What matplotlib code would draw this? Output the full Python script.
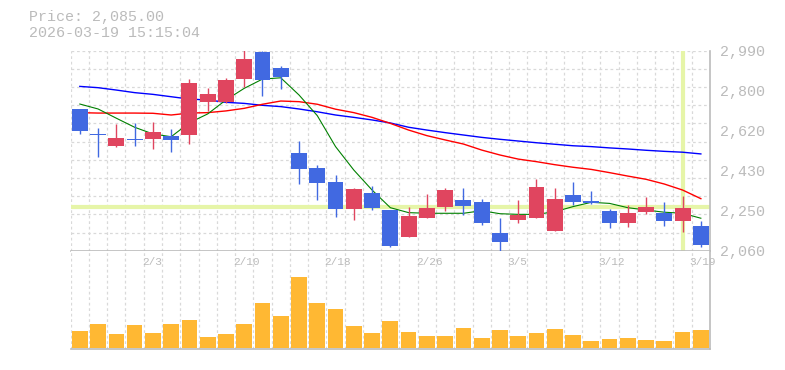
import numpy as np
import matplotlib.pyplot as plt
from matplotlib.transforms import blended_transform_factory

# daily candles, 1/28 .. 3/19
dates = ['1/28', '1/29', '1/30', '2/2', '2/3', '2/4', '2/5', '2/6', '2/9', '2/10',
         '2/12', '2/13', '2/16', '2/17', '2/18', '2/19', '2/20', '2/24', '2/25', '2/26',
         '2/27', '3/2', '3/3', '3/4', '3/5', '3/6', '3/9', '3/10', '3/11', '3/12',
         '3/13', '3/16', '3/17', '3/18', '3/19']
opens = [2719, 2603, 2547, 2577, 2581, 2593, 2598, 2753, 2751, 2860,
         2984, 2910, 2514, 2445, 2379, 2255, 2328, 2249, 2125, 2213,
         2265, 2296, 2286, 2144, 2203, 2213, 2153, 2319, 2291, 2245,
         2190, 2240, 2235, 2198, 2175]
highs = [2719, 2631, 2649, 2654, 2658, 2626, 2858, 2817, 2863, 2993,
         2990, 2920, 2570, 2457, 2412, 2353, 2361, 2249, 2265, 2324,
         2353, 2353, 2300, 2212, 2296, 2395, 2353, 2379, 2338, 2254,
         2274, 2311, 2286, 2314, 2200]
lows = [2603, 2497, 2544, 2547, 2534, 2520, 2558, 2710, 2745, 2823,
        2781, 2813, 2372, 2296, 2218, 2204, 2249, 2079, 2125, 2213,
        2246, 2227, 2181, 2060, 2190, 2213, 2153, 2274, 2279, 2167,
        2172, 2231, 2176, 2147, 2079]
closes = [2618, 2600, 2584, 2574, 2612, 2575, 2840, 2789, 2854, 2951,
          2855, 2869, 2441, 2376, 2255, 2347, 2260, 2083, 2221, 2259,
          2342, 2269, 2190, 2102, 2227, 2356, 2300, 2288, 2282, 2190,
          2235, 2263, 2198, 2259, 2085]
ma_short = [2742, 2719, 2676, 2634, 2603, 2590, 2655, 2696, 2761, 2815,
            2858, 2864, 2784, 2688, 2544, 2435, 2342, 2260, 2237, 2234,
            2234, 2234, 2246, 2232, 2229, 2229, 2241, 2265, 2285, 2280,
            2260, 2249, 2239, 2234, 2211]
ma_mid = [2702, 2700, 2700, 2700, 2699, 2691, 2700, 2702, 2710, 2722,
          2741, 2756, 2753, 2741, 2718, 2702, 2680, 2652, 2621, 2595,
          2575, 2556, 2528, 2505, 2486, 2474, 2460, 2448, 2438, 2423,
          2407, 2392, 2370, 2342, 2302]
ma_long = [2824, 2818, 2807, 2795, 2787, 2776, 2765, 2761, 2750, 2745,
           2736, 2730, 2719, 2706, 2691, 2680, 2668, 2654, 2634, 2621,
           2609, 2598, 2587, 2578, 2570, 2562, 2555, 2548, 2544, 2538,
           2533, 2527, 2522, 2518, 2510]
volumes = [173, 243, 140, 230, 150, 243, 283, 110, 140, 243,
           453, 323, 713, 453, 393, 223, 153, 273, 163, 123,
           123, 203, 103, 183, 123, 153, 193, 133, 73, 93,
           103, 83, 73, 163, 183]

price_ticks = [2060, 2246, 2432, 2618, 2804, 2990]
price_labels = ['2,060', '2,250', '2,430', '2,620', '2,800', '2,990']
date_ticks = [4, 9, 14, 19, 24, 29, 34]
cross_idx = 33
cross_price = 2262

UP = '#e0455f'
DOWN = '#4169e1'
GRID = '#d9d9d9'
TXT = '#bbbbbb'
CROSS = '#e6f5a8'
MONO = ['Liberation Mono', 'DejaVu Sans Mono']

fig = plt.figure(figsize=(7.85, 3.7), dpi=100)
ax = fig.add_axes([70.7 / 785, 1 - 250.7 / 370, 639.3 / 785, 200 / 370])
axv = fig.add_axes([70.7 / 785, 1 - 349.3 / 370, 639.3 / 785, 98.6 / 370], sharex=ax)

n = len(dates)
x = np.arange(n)
o = np.array(opens); c = np.array(closes)
h = np.array(highs); l = np.array(lows)

ax.set_xlim(-0.5, n - 0.5)
ax.set_ylim(2060, 2990)
dash = (0, (2.2, 2.2))
for yy in np.linspace(2060, 2990, 12)[1:]:
    ax.axhline(yy, color=GRID, lw=0.9, ls=dash, zorder=0)
for xx in np.arange(n) - 0.5:
    ax.axvline(xx, color=GRID, lw=0.9, ls=dash, zorder=0)
    axv.axvline(xx, color=GRID, lw=0.9, ls=dash, zorder=0)

# crosshair
ax.axhline(cross_price, color=CROSS, lw=3, zorder=1)
ax.axvline(cross_idx, color=CROSS, lw=3, zorder=1)

# moving averages
ax.plot(x, ma_long, color='#0000ff', lw=1.0, zorder=2)
ax.plot(x, ma_mid, color='#ff0000', lw=1.0, zorder=2)
ax.plot(x, ma_short, color='#008000', lw=0.8, zorder=2)

# candles
cols = np.where(c >= o, UP, DOWN)
body = np.maximum(np.abs(c - o), 4)
ax.vlines(x, l, h, colors=cols, lw=1.0, zorder=3)
ax.bar(x, body, bottom=np.minimum(o, c), width=0.87, color=cols, lw=0, zorder=4)

ax.yaxis.tick_right()
ax.set_yticks(price_ticks, price_labels)
ax.tick_params(axis='y', length=0, pad=7, labelcolor=TXT, labelsize=10.8)
for t in ax.get_yticklabels():
    t.set_family(MONO)
ax.tick_params(axis='x', length=0, labelbottom=False)
for s in ['left', 'top']:
    ax.spines[s].set_visible(False)
for s in ['right', 'bottom']:
    ax.spines[s].set_color(TXT)
    ax.spines[s].set_linewidth(1.2)

# volume
axv.bar(x, volumes, width=0.86, color='#ffb833', lw=0, zorder=2)
axv.set_ylim(-13, 973)
axv.set_yticks([])
axv.tick_params(axis='x', length=0, labelbottom=False)
for s in ['left', 'top']:
    axv.spines[s].set_visible(False)
for s in ['right', 'bottom']:
    axv.spines[s].set_color(TXT)
    axv.spines[s].set_linewidth(1.2)

tr = blended_transform_factory(axv.transData, axv.transAxes)
for i in date_ticks:
    axv.text(i - 0.61, 1 - 11.6 / 98.6, dates[i], transform=tr, ha='left', va='center',
             color=TXT, fontsize=8, family=MONO)

fig.text(29 / 785, 1 - 17.3 / 370, 'Price: 2,085.00', ha='left', va='center',
         color=TXT, fontsize=10.8, family=MONO)
fig.text(29 / 785, 1 - 33.3 / 370, '2026-03-19 15:15:04', ha='left', va='center',
         color=TXT, fontsize=10.8, family=MONO)

fig.savefig('out.png', dpi=100)
